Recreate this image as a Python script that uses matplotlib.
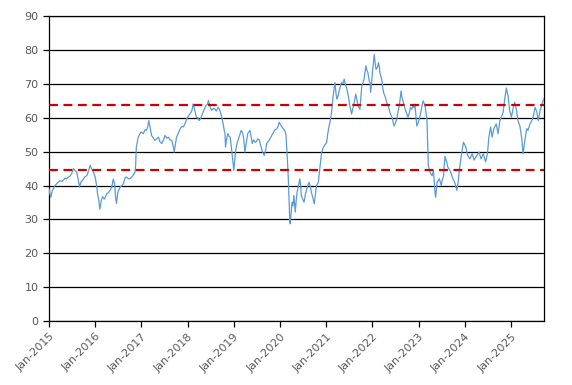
import matplotlib
matplotlib.use("Agg")
import matplotlib.pyplot as plt
import matplotlib.dates as mdates
import numpy as np
import pandas as pd

# decimal-year time stamps and values
t = [2015.00, 2015.02, 2015.04, 2015.07, 2015.09, 2015.13, 2015.17, 2015.20, 2015.24, 2015.28,
     2015.31, 2015.35, 2015.38, 2015.42, 2015.45, 2015.49, 2015.53, 2015.56, 2015.60, 2015.63,
     2015.66, 2015.69, 2015.73, 2015.77, 2015.82, 2015.86, 2015.89, 2015.92, 2015.96, 2016.00,
     2016.03, 2016.05, 2016.08, 2016.10, 2016.13, 2016.16, 2016.20, 2016.25, 2016.29, 2016.32,
     2016.36, 2016.39, 2016.42, 2016.44, 2016.46, 2016.49, 2016.54, 2016.58, 2016.61, 2016.65,
     2016.68, 2016.72, 2016.75, 2016.79, 2016.82, 2016.86, 2016.875, 2016.89, 2016.93, 2016.99,
     2017.04, 2017.08, 2017.11, 2017.14, 2017.16, 2017.19, 2017.22, 2017.26, 2017.29, 2017.33,
     2017.37, 2017.40, 2017.44, 2017.48, 2017.51, 2017.55, 2017.58, 2017.62, 2017.66, 2017.69,
     2017.71, 2017.74, 2017.76, 2017.80, 2017.84, 2017.88, 2017.91, 2017.95, 2017.98, 2018.02,
     2018.05, 2018.09, 2018.12, 2018.15, 2018.19, 2018.22, 2018.25, 2018.29, 2018.32, 2018.36,
     2018.39, 2018.43, 2018.45, 2018.49, 2018.52, 2018.56, 2018.59, 2018.62, 2018.66, 2018.69,
     2018.72, 2018.75, 2018.77, 2018.79, 2018.81, 2018.82, 2018.84, 2018.87, 2018.90, 2018.92,
     2018.95, 2018.97, 2019.00, 2019.02, 2019.04, 2019.07, 2019.10, 2019.13, 2019.16, 2019.19,
     2019.21, 2019.24, 2019.27, 2019.30, 2019.35, 2019.38, 2019.40, 2019.43, 2019.46, 2019.49,
     2019.52, 2019.55, 2019.57, 2019.60, 2019.62, 2019.66, 2019.69, 2019.71, 2019.76, 2019.79,
     2019.82, 2019.85, 2019.88, 2019.93, 2019.96, 2019.98, 2020.01, 2020.04, 2020.07, 2020.10,
     2020.12, 2020.13, 2020.16, 2020.18, 2020.20, 2020.21, 2020.22, 2020.24, 2020.26, 2020.28,
     2020.30, 2020.33, 2020.35, 2020.37, 2020.40, 2020.43, 2020.45, 2020.46, 2020.49, 2020.52,
     2020.55, 2020.58, 2020.60, 2020.63, 2020.66, 2020.68, 2020.71, 2020.74, 2020.77, 2020.79,
     2020.83, 2020.85, 2020.87, 2020.90, 2020.93, 2020.96, 2021.01, 2021.03, 2021.05, 2021.08,
     2021.10, 2021.12, 2021.15, 2021.17, 2021.19, 2021.21, 2021.23, 2021.26, 2021.28, 2021.31,
     2021.33, 2021.36, 2021.39, 2021.41, 2021.44, 2021.47, 2021.49, 2021.52, 2021.55, 2021.57,
     2021.60, 2021.62, 2021.64, 2021.67, 2021.69, 2021.73, 2021.75, 2021.77, 2021.80, 2021.82,
     2021.84, 2021.86, 2021.88, 2021.90, 2021.93, 2021.95, 2021.96, 2021.98, 2022.00, 2022.02,
     2022.04, 2022.06, 2022.08, 2022.11, 2022.13, 2022.15, 2022.16, 2022.18, 2022.20, 2022.22,
     2022.24, 2022.27, 2022.29, 2022.31, 2022.33, 2022.36, 2022.38, 2022.41, 2022.43, 2022.45,
     2022.47, 2022.50, 2022.53, 2022.55, 2022.58, 2022.60, 2022.62, 2022.64, 2022.67, 2022.70,
     2022.72, 2022.75, 2022.77, 2022.80, 2022.82, 2022.85, 2022.87, 2022.90, 2022.92, 2022.94,
     2022.96, 2022.99, 2023.01, 2023.04, 2023.06, 2023.08, 2023.10, 2023.14, 2023.16, 2023.18,
     2023.19, 2023.20, 2023.21, 2023.25, 2023.29, 2023.32, 2023.34, 2023.36, 2023.37, 2023.40,
     2023.43, 2023.45, 2023.49, 2023.51, 2023.54, 2023.57, 2023.61, 2023.63, 2023.66, 2023.68,
     2023.73, 2023.76, 2023.79, 2023.81, 2023.83, 2023.86, 2023.88, 2023.92, 2023.95, 2023.97,
     2024.00, 2024.02, 2024.06, 2024.11, 2024.16, 2024.20, 2024.26, 2024.31, 2024.35, 2024.40,
     2024.45, 2024.49, 2024.52, 2024.56, 2024.59, 2024.63, 2024.68, 2024.72, 2024.76, 2024.79,
     2024.83, 2024.87, 2024.90, 2024.94, 2024.97, 2025.01, 2025.05, 2025.08, 2025.12, 2025.15,
     2025.19, 2025.23, 2025.26, 2025.30, 2025.34, 2025.37, 2025.41, 2025.45, 2025.48, 2025.52,
     2025.56, 2025.59, 2025.63, 2025.67, 2025.71]

values = [39.0, 37.5, 36.5, 38.5, 39.0, 40.0, 40.6, 41.0, 41.4, 41.2,
          41.6, 42.2, 42.0, 42.5, 42.7, 43.5, 45.0, 44.5, 44.0, 42.0,
          39.6, 41.0, 41.6, 42.5, 43.0, 44.5, 46.0, 45.0, 44.0, 42.5,
          40.0, 37.6, 35.5, 33.0, 35.5, 36.7, 36.0, 37.6, 38.0, 38.6,
          39.6, 41.9, 40.5, 36.7, 34.7, 38.0, 39.6, 40.0, 40.6, 42.4,
          42.5, 42.0, 42.0, 42.5, 43.0, 44.0, 46.0, 51.4, 54.3, 55.8,
          55.3, 56.5, 56.3, 57.5, 59.2, 57.0, 54.8, 54.0, 53.3, 53.8,
          54.3, 53.0, 52.4, 53.5, 54.8, 54.0, 54.3, 53.5, 53.3, 51.5,
          49.9, 52.5, 54.3, 55.5, 56.8, 57.5, 57.3, 58.5, 59.7, 60.5,
          61.2, 62.0, 64.1, 62.5, 60.2, 60.0, 59.2, 60.0, 61.2, 62.5,
          63.5, 64.0, 65.1, 63.1, 62.2, 62.8, 62.6, 62.0, 63.1, 62.5,
          61.2, 59.5, 58.2, 56.5, 55.3, 51.4, 53.5, 55.3, 54.5, 54.3,
          51.0, 48.4, 44.5, 47.5, 50.4, 52.5, 53.8, 55.0, 56.3, 55.5,
          54.3, 49.9, 52.5, 55.3, 56.3, 54.0, 52.4, 53.5, 52.8, 53.0,
          53.8, 53.5, 52.4, 51.0, 49.9, 48.9, 50.5, 52.4, 53.3, 54.0,
          54.8, 55.5, 56.3, 56.8, 57.5, 58.7, 58.0, 57.3, 56.8, 56.3,
          55.5, 54.8, 47.5, 42.0, 33.7, 30.0, 28.7, 32.0, 35.1, 34.0,
          37.1, 32.2, 35.5, 38.0, 40.0, 42.0, 39.5, 37.1, 36.0, 35.1,
          37.5, 39.0, 40.0, 41.0, 39.5, 38.0, 36.5, 34.6, 38.0, 40.0,
          41.0, 43.5, 45.9, 49.8, 51.0, 51.8, 52.7, 55.0, 56.7, 58.6,
          60.0, 62.1, 66.5, 68.5, 70.4, 67.5, 65.5, 66.5, 67.9, 69.5,
          70.4, 70.0, 71.4, 70.0, 68.9, 67.0, 65.5, 63.0, 61.1, 62.5,
          64.0, 65.5, 67.0, 65.0, 63.5, 62.5, 66.0, 69.4, 70.5, 71.4,
          73.5, 75.3, 74.0, 73.5, 71.0, 70.4, 67.5, 70.0, 73.3, 76.0,
          78.7, 76.0, 74.3, 75.0, 76.3, 75.0, 73.3, 72.5, 71.4, 69.5,
          67.5, 66.5, 65.5, 64.5, 64.0, 62.5, 61.6, 60.5, 60.1, 58.5,
          57.6, 58.5, 59.6, 61.5, 63.5, 65.5, 67.9, 66.0, 64.5, 63.0,
          62.1, 61.0, 60.1, 61.5, 63.0, 62.5, 63.5, 63.0, 64.0, 61.0,
          57.6, 58.5, 59.6, 61.0, 62.5, 64.0, 65.0, 63.5, 61.5, 59.6,
          55.0, 50.8, 45.9, 43.9, 42.9, 44.4, 41.0, 37.1, 36.6, 41.0,
          41.5, 42.0, 40.0, 41.5, 42.9, 48.6, 46.9, 45.5, 44.9, 44.5,
          42.5, 41.5, 40.6, 39.5, 38.6, 41.5, 44.5, 48.4, 51.0, 52.8,
          52.0, 51.4, 48.9, 47.9, 49.4, 47.5, 48.9, 49.9, 47.9, 49.4,
          47.0, 49.4, 54.3, 57.3, 54.3, 56.8, 58.2, 55.3, 59.2, 60.2,
          61.7, 66.1, 68.8, 66.1, 62.2, 60.2, 63.1, 64.6, 62.2, 59.2,
          57.7, 54.3, 49.4, 53.3, 56.8, 56.3, 58.2, 59.2, 60.2, 63.1,
          61.7, 59.2, 62.2, 64.1, 65.6]

upper_band = 63.8
lower_band = 44.6
y_ticks = [0, 10, 20, 30, 40, 50, 60, 70, 80, 90]
x_tick_years = list(range(2015, 2026))

t_arr = np.array(t)
dates = pd.Timestamp("2015-01-01") + pd.to_timedelta((t_arr - 2015.0) * 365.25, unit="D")

fig = plt.figure(figsize=(5.72, 3.85), dpi=100)
ax = fig.add_axes([0.0857, 0.166, 0.865, 0.792])

for yv in y_ticks:
    ax.axhline(yv, color="black", lw=0.9, zorder=1)

ax.plot(dates, values, color="#5B9BD5", lw=0.9, zorder=3)
ax.axhline(upper_band, color="#CC0000", lw=1.6, ls=(0, (4, 2.5)), zorder=4)
ax.axhline(lower_band, color="#CC0000", lw=1.6, ls=(0, (4, 2.5)), zorder=4)

ax.set_ylim(0, 90)
ax.set_xlim(dates[0], dates[-1])
ax.set_yticks(y_ticks)
ax.set_xticks([pd.Timestamp(f"{y}-01-01") for y in x_tick_years])
ax.xaxis.set_major_formatter(mdates.DateFormatter("%b-%Y"))

for s in ax.spines.values():
    s.set_color("black")
    s.set_linewidth(0.9)

ax.tick_params(axis="both", direction="out", length=4, width=0.9, color="black",
               labelsize=8, labelcolor="#595959")
for lbl in ax.get_xticklabels():
    lbl.set_rotation(45)
    lbl.set_ha("right")
    lbl.set_rotation_mode("anchor")

fig.savefig("out.png", dpi=100)
